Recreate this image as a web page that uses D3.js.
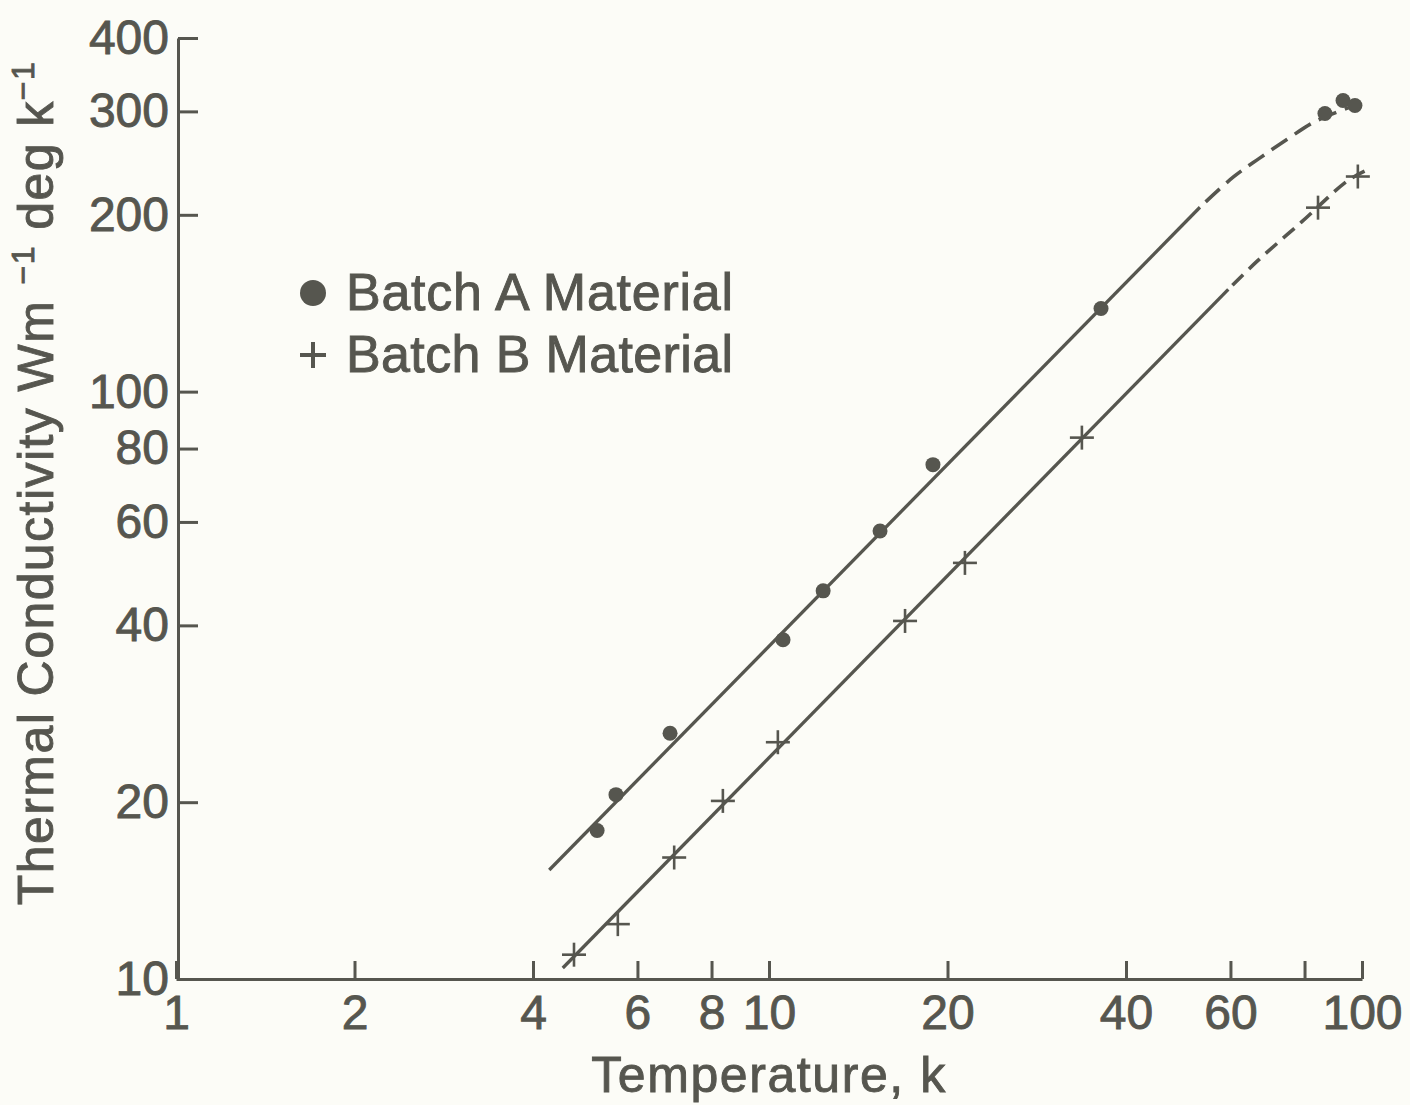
<!DOCTYPE html>
<html>
<head>
<meta charset="utf-8">
<script src="https://cdn.jsdelivr.net/npm/d3@7"></script>
<style>
  html, body { margin: 0; padding: 0; background: #fcfcf7; }
  svg { display: block; }
  text { font-family: "Liberation Sans", Arial, Helvetica, sans-serif; fill: #56564f;
         stroke: #56564f; stroke-width: 0.9px; }
</style>
</head>
<body>
<svg id="chart" width="1410" height="1105"></svg>
<script>
// ---- data ----
const batchA_T = [5.13, 5.52, 6.81, 10.56, 12.34, 15.39, 18.9, 36.3, 86.6, 92.9, 97.3];
const batchA_K = [17.9, 20.6, 26.2, 37.8, 45.8, 57.9, 75.1, 138.5, 297.6, 313, 307];
const batchB_T = [4.69, 5.56, 6.92, 8.36, 10.35, 16.96, 21.4, 33.7, 84.3, 98.4];
const batchB_K = [11.0, 12.4, 16.1, 20.1, 25.3, 40.7, 51.1, 83.5, 205.7, 232.4];

// fitted curves drawn in the reference
const fitA_solid_T = [4.26, 53.3];
const fitA_solid_K = [15.33, 206];
const fitA_dash_T = [53.3, 60.7, 67.3, 74.8, 83.5, 95.5];
const fitA_dash_K = [206, 232, 250, 269, 288.6, 305];
const fitB_solid_T = [4.49, 59.5];
const fitB_solid_K = [10.44, 149.3];
const fitB_dash_T = [59.5, 66.5, 79.1, 94.4, 101];
const fitB_dash_K = [149.3, 166.6, 194.5, 228.3, 237.4];

const xTicks = [1, 2, 4, 6, 8, 10, 20, 40, 60, 80, 100];
const xTickLabels = ["1", "2", "4", "6", "8", "10", "20", "40", "60", "", "100"];
const yTicks = [10, 20, 40, 60, 80, 100, 200, 300, 400];
const yTickLabels = ["10", "20", "40", "60", "80", "100", "200", "300", "400"];

const legendLabels = ["Batch A Material", "Batch B Material"];
const xTitle = "Temperature, k";

// ---- layout ----
const ink = "#56564f";
const svg = d3.select("#chart");
const x = d3.scaleLog().domain([1, 100]).range([176, 1362]);
const y = d3.scaleLog().domain([10, 400]).range([979, 38]);
const x0 = 178;

function fitWidth(sel, target) {
  const node = sel.node();
  const len = node.getComputedTextLength();
  const n = node.textContent.length;
  if (n > 1) sel.attr("letter-spacing", ((target - len) / (n - 1)).toFixed(2));
}

// y axis
const yAxis = d3.axisLeft(y)
  .tickValues(yTicks)
  .tickFormat((d, i) => yTickLabels[i])
  .tickSizeInner(-20).tickSizeOuter(0).tickPadding(9);
const gy = svg.append("g").attr("transform", `translate(${x0},0)`).call(yAxis);
gy.select(".domain").attr("stroke", ink).attr("stroke-width", 3);
gy.selectAll(".tick line").attr("stroke", ink).attr("stroke-width", 3);
gy.selectAll(".tick text").attr("font-size", 48).style("fill", ink)
  .attr("font-family", '"Liberation Sans", Arial, sans-serif');

// x axis
const xAxis = d3.axisBottom(x)
  .tickValues(xTicks)
  .tickFormat((d, i) => xTickLabels[i])
  .tickSizeInner(-18).tickSizeOuter(0).tickPadding(16);
const gx = svg.append("g").attr("transform", `translate(0,${y(10)})`).call(xAxis);
gx.select(".domain").attr("stroke", ink).attr("stroke-width", 3);
gx.selectAll(".tick line").attr("stroke", ink).attr("stroke-width", 3);
gx.selectAll(".tick text").attr("font-size", 48).style("fill", ink)
  .attr("font-family", '"Liberation Sans", Arial, sans-serif');

// axis titles
const xt = svg.append("text").attr("x", 769).attr("y", 1092)
  .attr("text-anchor", "middle").attr("font-size", 50).text(xTitle);
fitWidth(xt, 354);

const yt = svg.append("text")
  .attr("transform", "translate(53,483) rotate(-90)")
  .attr("text-anchor", "middle").attr("font-size", 50);
yt.append("tspan").text("Thermal Conductivity Wm ");
yt.append("tspan").attr("font-size", 32).attr("dy", -19).text("\u22121");
yt.append("tspan").attr("dy", 19).text(" deg k");
yt.append("tspan").attr("font-size", 32).attr("dy", -19).text("\u22121");
(function () {
  const len = yt.node().getComputedTextLength();
  const n = yt.node().textContent.length;
  yt.attr("letter-spacing", ((843 - len) / (n - 1)).toFixed(2));
})();

// fitted curves
const line = d3.line().x(d => x(d[0])).y(d => y(d[1]));
const lineCurve = d3.line().x(d => x(d[0])).y(d => y(d[1])).curve(d3.curveCatmullRom);
function pairs(a, b) { return a.map((v, i) => [v, b[i]]); }

svg.append("path").attr("d", line(pairs(fitA_solid_T, fitA_solid_K)))
  .attr("fill", "none").attr("stroke", ink).attr("stroke-width", 3.3);
svg.append("path").attr("d", lineCurve(pairs(fitA_dash_T, fitA_dash_K)))
  .attr("fill", "none").attr("stroke", ink).attr("stroke-width", 3.6)
  .attr("stroke-dasharray", "19,9").attr("stroke-dashoffset", -8);
svg.append("path").attr("d", line(pairs(fitB_solid_T, fitB_solid_K)))
  .attr("fill", "none").attr("stroke", ink).attr("stroke-width", 3.3);
svg.append("path").attr("d", lineCurve(pairs(fitB_dash_T, fitB_dash_K)))
  .attr("fill", "none").attr("stroke", ink).attr("stroke-width", 3.6)
  .attr("stroke-dasharray", "15,8").attr("stroke-dashoffset", -6);

// markers
svg.append("g").selectAll("circle").data(pairs(batchA_T, batchA_K)).join("circle")
  .attr("cx", d => x(d[0])).attr("cy", d => y(d[1])).attr("r", 7.5)
  .attr("fill", ink);

const plus = svg.append("g").selectAll("g").data(pairs(batchB_T, batchB_K)).join("g")
  .attr("transform", d => `translate(${x(d[0])},${y(d[1])})`);
plus.append("line").attr("x1", -12).attr("x2", 12).attr("y1", 0).attr("y2", 0)
  .attr("stroke", ink).attr("stroke-width", 2.6);
plus.append("line").attr("x1", 0).attr("x2", 0).attr("y1", -12).attr("y2", 12)
  .attr("stroke", ink).attr("stroke-width", 2.6);

// legend
const lg = svg.append("g");
lg.append("circle").attr("cx", 313).attr("cy", 293).attr("r", 13).attr("fill", ink);
lg.append("line").attr("x1", 300).attr("x2", 326).attr("y1", 355).attr("y2", 355)
  .attr("stroke", ink).attr("stroke-width", 4);
lg.append("line").attr("x1", 313).attr("x2", 313).attr("y1", 342).attr("y2", 368)
  .attr("stroke", ink).attr("stroke-width", 4);
legendLabels.forEach((t, i) => {
  const el = lg.append("text").attr("x", 346).attr("y", 310 + i * 62)
    .attr("font-size", 52).text(t);
  fitWidth(el, 387);
});
</script>
</body>
</html>
